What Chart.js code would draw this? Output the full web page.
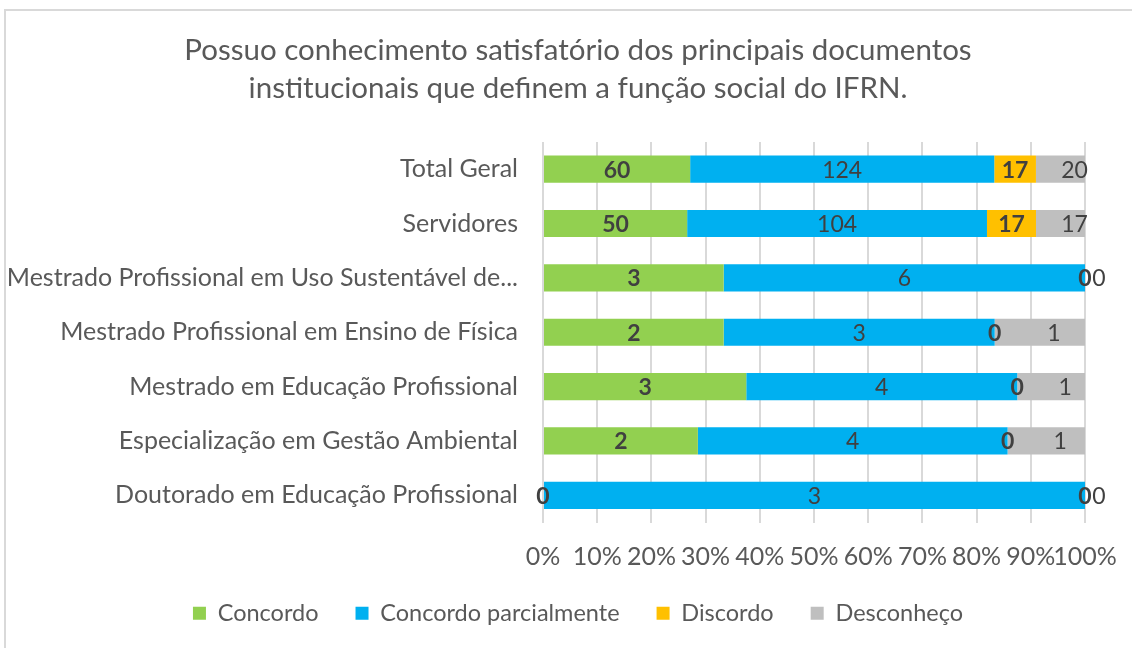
<!DOCTYPE html>
<html>
<head>
<meta charset="utf-8">
<script src="https://cdn.jsdelivr.net/npm/chart.js@4"></script>
<style>
  html, body { margin: 0; padding: 0; background: #fff; overflow: hidden; width: 1132px; height: 648px; }
  #frame {
    position: absolute; left: 4px; top: 9px; width: 1148px; height: 680px;
    border-left: 2px solid #d9d9d9; border-top: 2px solid #d9d9d9;
  }
  #box { position: absolute; left: 0; top: 0; width: 1146px; height: 637px; }
</style>
</head>
<body>
<div id="frame"><div id="box"><canvas id="chart"></canvas></div></div>
<script>
// categories, top to bottom
const categories = [
  'Total Geral',
  'Servidores',
  'Mestrado Profissional em Uso Sustentável de...',
  'Mestrado Profissional em Ensino de Física',
  'Mestrado em Educação Profissional',
  'Especialização em Gestão Ambiental',
  'Doutorado em Educação Profissional'
];
// answer counts per category
const concordo = [60, 50, 3, 2, 3, 2, 0];
const concordoParcialmente = [124, 104, 6, 3, 4, 4, 3];
const discordo = [17, 17, 0, 0, 0, 0, 0];
const desconheco = [20, 17, 0, 1, 1, 1, 0];
const xTicks = ['0%', '10%', '20%', '30%', '40%', '50%', '60%', '70%', '80%', '90%', '100%'];

const FONT = 'Lato, "Noto Sans", sans-serif';
const TXT = '#404040';
const GREY = '#595959';
const totals = categories.map((c, i) => concordo[i] + concordoParcialmente[i] + discordo[i] + desconheco[i]);
const pct = arr => arr.map((v, i) => v / totals[i] * 100);

const series = [
  {label: 'Concordo', raw: concordo, color: '#92D050', bold: true, shift: 0},
  {label: 'Concordo parcialmente', raw: concordoParcialmente, color: '#00B0F0', bold: false, shift: 0},
  {label: 'Discordo', raw: discordo, color: '#FFC000', bold: true, shift: 0},
  {label: 'Desconheço', raw: desconheco, color: '#BFBFBF', bold: false, shift: 14}
];

/* draws the counts in the middle of each segment */
const countLabels = {
  id: 'countLabels',
  afterDatasetsDraw(chart) {
    const ctx = chart.ctx;
    ctx.save();
    ctx.textAlign = 'center';
    ctx.textBaseline = 'middle';
    chart.data.datasets.forEach((ds, di) => {
      const meta = chart.getDatasetMeta(di);
      meta.data.forEach((bar, i) => {
        const x = (bar.x + bar.base) / 2 + ds.shift;
        ctx.font = (ds.bold ? 'bold ' : '') + '23px ' + FONT;
        ctx.fillStyle = TXT;
        ctx.fillText(String(ds.raw[i]), x, bar.y + 1);
      });
    });
    ctx.restore();
  }
};

new Chart(document.getElementById('chart'), {
  type: 'bar',
  data: {
    labels: categories,
    datasets: series.map(s => ({
      label: s.label,
      data: pct(s.raw),
      raw: s.raw,
      bold: s.bold,
      shift: s.shift,
      backgroundColor: s.color,
      borderWidth: 0,
      barPercentage: 0.5,
      categoryPercentage: 1
    }))
  },
  options: {
    indexAxis: 'y',
    responsive: true,
    maintainAspectRatio: false,
    animation: false,
    layout: {padding: {left: 0, right: 2, top: 0, bottom: 13}},
    scales: {
      x: {
        stacked: true,
        min: 0,
        max: 100,
        ticks: {
          stepSize: 10,
          padding: 19,
          maxRotation: 0,
          minRotation: 0,
          autoSkip: false,
          color: GREY,
          font: {family: FONT, size: 25},
          callback: (v, i) => xTicks[i]
        },
        grid: {color: '#d9d9d9', lineWidth: 2, drawTicks: false},
        border: {display: false},
        afterFit: s => {
          s.height = 42;
          s.paddingRight = 67;
          s._computeLabelArea = () => null; // let tick labels reach into the legend band
        }
      },
      y: {
        stacked: true,
        ticks: {color: GREY, font: {family: FONT, size: 25}, padding: 17},
        grid: {display: false},
        border: {display: false},
        afterFit: s => { s.width = 537; }
      }
    },
    plugins: {
      title: {
        display: true,
        text: ['Possuo conhecimento satisfatório dos principais documentos',
               'institucionais que definem a função social do IFRN.'],
        color: GREY,
        font: {family: FONT, size: 29.5, weight: 'normal', lineHeight: 1.288},
        padding: {top: 20, bottom: 35}
      },
      legend: {
        position: 'bottom',
        labels: {
          color: GREY,
          font: {family: FONT, size: 23.5},
          boxWidth: 13,
          boxHeight: 13,
          padding: 37
        }
      },
      tooltip: {enabled: false}
    }
  },
  plugins: [countLabels]
});
</script>
</body>
</html>
